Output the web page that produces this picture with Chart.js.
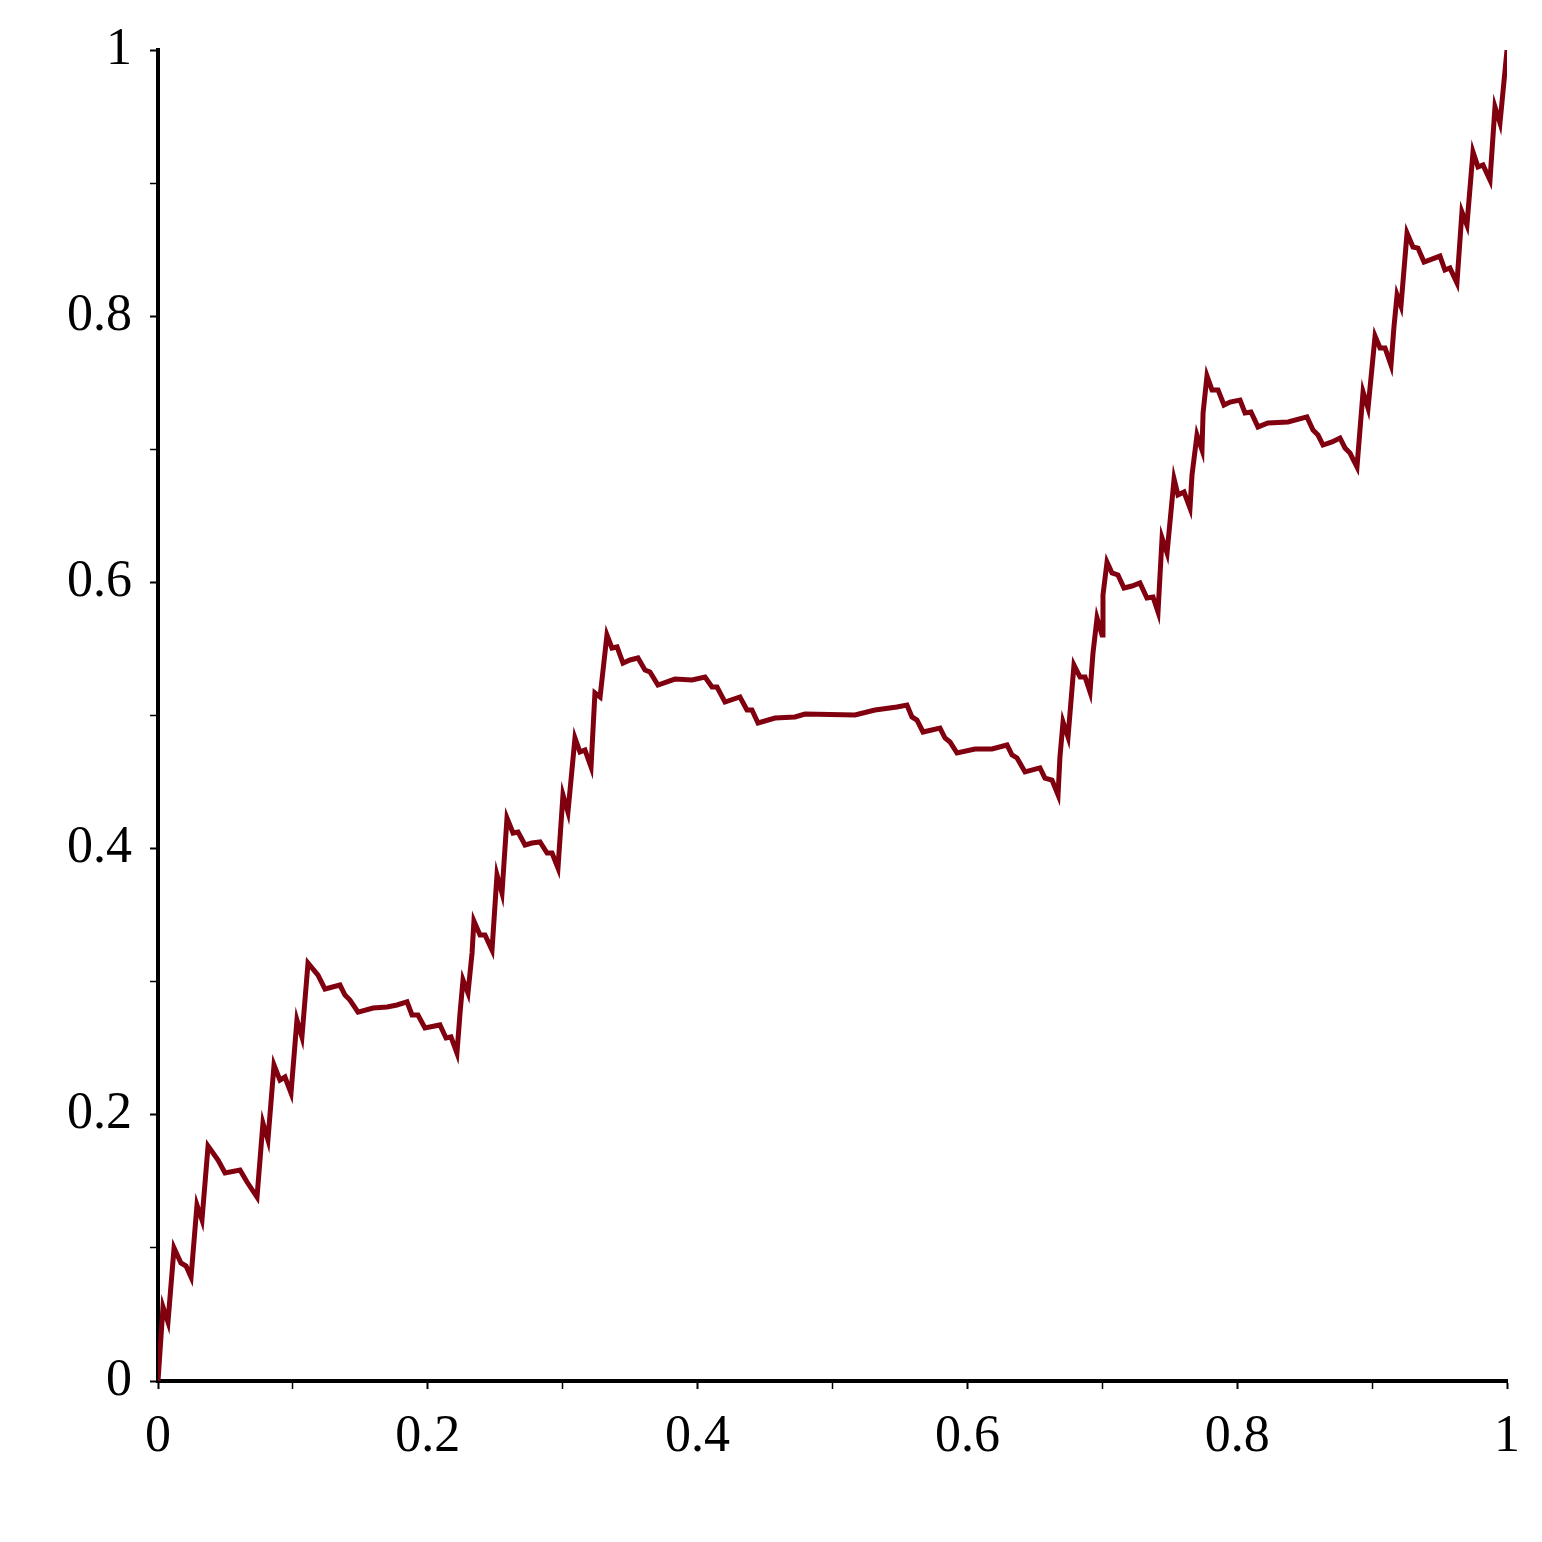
<!DOCTYPE html>
<html>
<head>
<meta charset="utf-8">
<script src="https://cdn.jsdelivr.net/npm/chart.js@4"></script>
<style>
  html, body { margin: 0; padding: 0; background: #fff; }
  #wrap { width: 1542px; height: 1542px; }
</style>
</head>
<body>
<div id="wrap"><canvas id="myCurve" width="1542" height="1542"></canvas></div>
<script>
// points, x and y
var xs = [0, 0.0037, 0.0074, 0.0119, 0.0170, 0.0208, 0.0245, 0.0289, 0.0326, 0.0371,
  0.0445, 0.0497, 0.0608, 0.0660, 0.0734, 0.0778, 0.0815, 0.0860, 0.0904, 0.0941,
  0.0986, 0.1030, 0.1067, 0.1112, 0.1186, 0.1238, 0.1349, 0.1386, 0.1423, 0.1483,
  0.1594, 0.1698, 0.1772, 0.1846, 0.1883, 0.1927, 0.1979, 0.2090, 0.2135, 0.2172,
  0.2216, 0.2239, 0.2261, 0.2298, 0.2328, 0.2342, 0.2387, 0.2424, 0.2476, 0.2513,
  0.2550, 0.2587, 0.2632, 0.2669, 0.2721, 0.2772, 0.2832, 0.2884, 0.2921, 0.2965,
  0.3002, 0.3039, 0.3091, 0.3128, 0.3165, 0.3210, 0.3239, 0.3277, 0.3328, 0.3365,
  0.3403, 0.3447, 0.3499, 0.3558, 0.3610, 0.3647, 0.3706, 0.3832, 0.3959, 0.4055,
  0.4107, 0.4144, 0.4203, 0.4314, 0.4366, 0.4403, 0.4448, 0.4574, 0.4722, 0.4796,
  0.5167, 0.5315, 0.5478, 0.5552, 0.5589, 0.5626, 0.5671, 0.5797, 0.5834, 0.5871,
  0.5923, 0.6056, 0.6182, 0.6294, 0.6331, 0.6368, 0.6427, 0.6538, 0.6575, 0.6627,
  0.6672, 0.6686, 0.6709, 0.6746, 0.6790, 0.6835, 0.6872, 0.6909, 0.6931, 0.6961,
  0.6998, 0.7005, 0.7035, 0.7072, 0.7116, 0.7161, 0.7220, 0.7279, 0.7331, 0.7376,
  0.7413, 0.7443, 0.7480, 0.7532, 0.7561, 0.7606, 0.7650, 0.7665, 0.7702, 0.7739,
  0.7747, 0.7776, 0.7813, 0.7858, 0.7902, 0.7947, 0.8021, 0.8058, 0.8102, 0.8154,
  0.8228, 0.8377, 0.8517, 0.8562, 0.8599, 0.8636, 0.8703, 0.8762, 0.8799, 0.8836,
  0.8888, 0.8910, 0.8933, 0.8970, 0.9022, 0.9059, 0.9096, 0.9140, 0.9162, 0.9185,
  0.9214, 0.9259, 0.9303, 0.9340, 0.9385, 0.9503, 0.9540, 0.9577, 0.9629, 0.9666,
  0.9703, 0.9748, 0.9785, 0.9822, 0.9874, 0.9911, 0.9948, 1.0];

var ys = [0, 0.0556, 0.0443, 0.0999, 0.0887, 0.0864, 0.0781, 0.1322, 0.1210, 0.1766,
  0.1660, 0.1563, 0.1585, 0.1495, 0.1382, 0.1938, 0.1811, 0.2374, 0.2261, 0.2284,
  0.2164, 0.2712, 0.2585, 0.3140, 0.3050, 0.2945, 0.2975, 0.2900, 0.2862, 0.2772,
  0.2802, 0.2810, 0.2825, 0.2848, 0.2750, 0.2750, 0.2652, 0.2675, 0.2577, 0.2585,
  0.2464, 0.2765, 0.3013, 0.2915, 0.3216, 0.3456, 0.3351, 0.3351, 0.3238, 0.3802,
  0.3666, 0.4230, 0.4117, 0.4125, 0.4027, 0.4042, 0.4050, 0.3967, 0.3967, 0.3854,
  0.4403, 0.4275, 0.4831, 0.4726, 0.4741, 0.4613, 0.5169, 0.5139, 0.5605, 0.5507,
  0.5515, 0.5394, 0.5417, 0.5432, 0.5342, 0.5327, 0.5229, 0.5274, 0.5267, 0.5289,
  0.5214, 0.5214, 0.5101, 0.5139, 0.5041, 0.5041, 0.4944, 0.4981, 0.4989, 0.5011,
  0.5004, 0.5041, 0.5064, 0.5079, 0.4989, 0.4966, 0.4876, 0.4906, 0.4831, 0.4801,
  0.4718, 0.4748, 0.4748, 0.4778, 0.4703, 0.4681, 0.4576, 0.4606, 0.4530, 0.4515,
  0.4403, 0.4688, 0.4951, 0.4838, 0.5379, 0.5289, 0.5289, 0.5177, 0.5470, 0.5733,
  0.5605, 0.5905, 0.6153, 0.6071, 0.6056, 0.5958, 0.5973, 0.5996, 0.5883, 0.5890,
  0.5778, 0.6334, 0.6221, 0.6777, 0.6657, 0.6679, 0.6559, 0.6807, 0.7107, 0.6995,
  0.7273, 0.7551, 0.7446, 0.7446, 0.7333, 0.7355, 0.7370, 0.7273, 0.7280, 0.7168,
  0.7198, 0.7205, 0.7243, 0.7145, 0.7107, 0.7032, 0.7055, 0.7085, 0.7010, 0.6972,
  0.6867, 0.7145, 0.7431, 0.7310, 0.7851, 0.7761, 0.7761, 0.7633, 0.7919, 0.8159,
  0.8077, 0.8625, 0.8520, 0.8512, 0.8407, 0.8452, 0.8347, 0.8362, 0.8249, 0.8783,
  0.8685, 0.9234, 0.9121, 0.9136, 0.9023, 0.9572, 0.9452, 1.0];

var majorTicks = [0, 0.2, 0.4, 0.6, 0.8, 1];
var tickLabels = ['0', '0.2', '0.4', '0.6', '0.8', '1'];

var points = xs.map(function (x, i) { return { x: x, y: ys[i] }; });

function tickText(value) {
    var i = majorTicks.findIndex(function (t) { return Math.abs(t - value) < 1e-6; });
    return i >= 0 ? tickLabels[i] : '';
}
function tickW(c) {
    return tickText(c.tick.value) === '' ? 1.5 : 2;
}

var serif = "'Liberation Serif', 'Times New Roman', Times, serif";

var ctx = document.getElementById('myCurve').getContext('2d');
var chart = new Chart(ctx, {
    type: 'line',
    data: {
        datasets: [{
            data: points,
            borderColor: '#80000f',
            borderWidth: 5,
            pointRadius: 0,
            tension: 0,
            fill: false
        }]
    },
    options: {
        responsive: false,
        animation: false,
        layout: { padding: { left: 0, right: 35, top: 50, bottom: 0 } },
        plugins: { legend: { display: false }, tooltip: { enabled: false } },
        scales: {
            x: {
                type: 'linear',
                min: 0, max: 1,
                border: { color: '#000', width: 4 },
                grid: { drawOnChartArea: false, tickLength: 8, tickColor: '#000', tickWidth: tickW },
                ticks: {
                    stepSize: 0.1,
                    autoSkip: false,
                    maxRotation: 0,
                    padding: 17,
                    color: '#000',
                    font: { family: serif, size: 52 },
                    callback: function (v) { return tickText(v); }
                },
                afterFit: function (s) { s.height = 161; }
            },
            y: {
                min: 0, max: 1,
                border: { color: '#000', width: 4 },
                grid: { drawOnChartArea: false, tickLength: 8, tickColor: '#000', tickWidth: tickW },
                ticks: {
                    stepSize: 0.1,
                    autoSkip: false,
                    padding: 18,
                    color: '#000',
                    font: { family: serif, size: 52 },
                    callback: function (v) { return tickText(v); }
                },
                afterFit: function (s) { s.width = 158; }
            }
        }
    }
});
</script>
</body>
</html>
